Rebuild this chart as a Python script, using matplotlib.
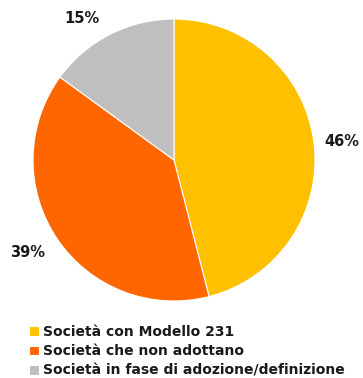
import numpy as np
import matplotlib
matplotlib.use("Agg")
import matplotlib.pyplot as plt

categories = ["Società con Modello 231",
              "Società che non adottano",
              "Società in fase di adozione/definizione"]
shares = [46, 39, 15]
colors = ["#FFC000", "#FF6600", "#BFBFBF"]

W, H = 363, 378
cx, cy, r = 174, H - 160, 141

fig = plt.figure(figsize=(W / 100, H / 100), dpi=100)
ax = fig.add_axes([0, 0, 1, 1])

wedges, texts = ax.pie(shares, colors=colors, startangle=90, counterclock=False,
                       center=(cx, cy), radius=r,
                       labels=["%d%%" % s for s in shares],
                       wedgeprops=dict(edgecolor="white", linewidth=0.8),
                       textprops=dict(fontsize=10.5, fontweight="bold", color="#1a1a1a"),
                       frame=True)

# push the percentage labels out along each wedge, with small angle nudges
label_r = [169, 173, 169]
nudge = [-1, -2, 6]
for w, t, lr, dn in zip(wedges, texts, label_r, nudge):
    ang = np.deg2rad((w.theta1 + w.theta2) / 2 + dn)
    t.set_position((cx + lr * np.cos(ang), cy + lr * np.sin(ang)))
    t.set_ha("center")
    t.set_va("center")

ax.set_xlim(0, W)
ax.set_ylim(0, H)
ax.set_aspect("equal")
ax.axis("off")

leg = ax.legend(wedges, categories, loc="lower left", bbox_to_anchor=(0.064, -0.014),
                frameon=False, handlelength=0.7, handleheight=0.7, handletextpad=0.3,
                labelspacing=0.38, borderaxespad=0,
                prop=dict(size=10, weight="bold"))
for t in leg.get_texts():
    t.set_color("#1a1a1a")

fig.savefig("out.png", dpi=100)
